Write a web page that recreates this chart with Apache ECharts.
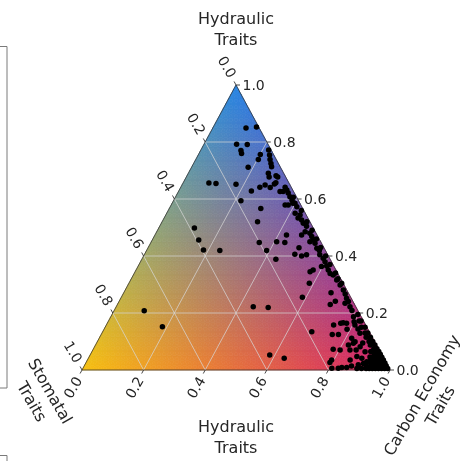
<!DOCTYPE html>
<html>
<head>
<meta charset="utf-8">
<script src="https://cdn.jsdelivr.net/npm/echarts@6/dist/echarts.min.js"></script>
<style>
  html, body { margin: 0; padding: 0; background: #ffffff; }
  #chart { width: 460px; height: 461px; }
</style>
</head>
<body>
<div id="chart"></div>
<script>
// Ternary composition of each species: hydraulic (top), stomatal (left), carbon economy (right)
const hydraulic = [
  0.849, 0.853, 0.792, 0.791, 0.770, 0.760, 0.756, 0.739, 0.711, 0.772,
  0.754, 0.739, 0.725, 0.713, 0.690, 0.682, 0.677, 0.677, 0.656, 0.654,
  0.652, 0.628, 0.641, 0.649, 0.640, 0.657, 0.653, 0.641, 0.632, 0.626,
  0.621, 0.608, 0.596, 0.606, 0.585, 0.579, 0.594, 0.567, 0.626, 0.579,
  0.585, 0.573, 0.550, 0.544, 0.533, 0.526, 0.515, 0.504, 0.485, 0.480,
  0.474, 0.468, 0.456, 0.450, 0.445, 0.427, 0.419, 0.404, 0.392, 0.380,
  0.363, 0.365, 0.351, 0.339, 0.333, 0.316, 0.298, 0.474, 0.447, 0.450,
  0.389, 0.406, 0.400, 0.404, 0.351, 0.345, 0.304, 0.255, 0.222, 0.219,
  0.134, 0.053, 0.041, 0.498, 0.456, 0.421, 0.419, 0.520, 0.447, 0.419,
  0.429, 0.208, 0.152, 0.271, 0.241, 0.230, 0.158, 0.125, 0.125, 0.073,
  0.026, 0.006, 0.006, 0.304, 0.281, 0.267, 0.252, 0.240, 0.222, 0.209,
  0.187, 0.166, 0.158, 0.144, 0.129, 0.111, 0.094, 0.070, 0.070, 0.082,
  0.095, 0.035,
  0.234, 0.164, 0.164, 0.143, 0.169, 0.070, 0.088, 0.099, 0.064, 0.047,
  0.041, 0.035, 0.009, 0.009, 0.014, 0.018, 0.023, 0.029, 0.046,
  0.005, 0.005, 0.005, 0.005, 0.005, 0.005, 0.005, 0.005, 0.005, 0.005,
  0.015, 0.015, 0.015, 0.015, 0.015, 0.015, 0.015,
  0.025, 0.025, 0.025, 0.025, 0.025, 0.025,
  0.035, 0.035, 0.035, 0.035, 0.035,
  0.045, 0.045, 0.045, 0.045,
  0.055, 0.055, 0.055, 0.065, 0.065, 0.065, 0.075, 0.075, 0.088, 0.088,
  0.100, 0.100, 0.115, 0.115, 0.130, 0.130, 0.150, 0.150, 0.172, 0.172, 0.195,
  0.560, 0.520, 0.490, 0.460, 0.430, 0.400, 0.370, 0.340, 0.320
];
const stomatal = [
  0.043, 0.007, 0.102, 0.068, 0.099, 0.102, 0.043, 0.058, 0.105, 0.008,
  0.014, 0.020, 0.024, 0.028, 0.050, 0.029, 0.054, 0.026, 0.260, 0.238,
  0.174, 0.136, 0.102, 0.081, 0.069, 0.042, 0.049, 0.020, 0.019, 0.034,
  0.020, 0.021, 0.020, 0.011, 0.016, 0.041, 0.187, 0.136, 0.044, 0.051,
  0.023, 0.016, 0.033, 0.020, 0.032, 0.024, 0.024, 0.019, 0.033, 0.020,
  0.050, 0.020, 0.021, 0.035, 0.021, 0.024, 0.020, 0.026, 0.021, 0.021,
  0.041, 0.023, 0.025, 0.025, 0.018, 0.015, 0.013, 0.099, 0.118, 0.143,
  0.176, 0.106, 0.087, 0.069, 0.074, 0.087, 0.110, 0.157, 0.333, 0.286,
  0.187, 0.364, 0.323, 0.386, 0.393, 0.395, 0.343, 0.170, 0.201, 0.191,
  0.081, 0.694, 0.663, 0.056, 0.057, 0.079, 0.104, 0.125, 0.105, 0.148,
  0.182, 0.186, 0.165, 0.005, 0.011, 0.012, 0.015, 0.015, 0.019, 0.019,
  0.025, 0.069, 0.035, 0.032, 0.033, 0.069, 0.072, 0.095, 0.075, 0.056,
  0.041, 0.172,
  0.029, 0.078, 0.059, 0.068, 0.032, 0.127, 0.091, 0.064, 0.049, 0.084,
  0.071, 0.112, 0.152, 0.136, 0.118, 0.094, 0.075, 0.061, 0.042,
  0.005, 0.015, 0.025, 0.035, 0.045, 0.055, 0.065, 0.075, 0.090, 0.105,
  0.005, 0.015, 0.025, 0.035, 0.045, 0.055, 0.070,
  0.004, 0.012, 0.020, 0.030, 0.040, 0.050,
  0.004, 0.012, 0.020, 0.030, 0.045,
  0.004, 0.012, 0.022, 0.032,
  0.004, 0.013, 0.024, 0.004, 0.014, 0.030, 0.005, 0.015, 0.005, 0.020,
  0.006, 0.018, 0.006, 0.020, 0.007, 0.016, 0.006, 0.018, 0.008, 0.014, 0.007,
  0.008, 0.010, 0.008, 0.009, 0.010, 0.009, 0.010, 0.007, 0.009
];
const carbon = [
  0.108, 0.140, 0.106, 0.141, 0.131, 0.138, 0.201, 0.203, 0.184, 0.220,
  0.232, 0.241, 0.251, 0.259, 0.260, 0.289, 0.269, 0.297, 0.084, 0.108,
  0.174, 0.236, 0.257, 0.270, 0.291, 0.301, 0.298, 0.339, 0.349, 0.340,
  0.359, 0.371, 0.384, 0.383, 0.399, 0.380, 0.219, 0.297, 0.330, 0.370,
  0.392, 0.411, 0.417, 0.436, 0.435, 0.450, 0.461, 0.477, 0.482, 0.500,
  0.476, 0.512, 0.523, 0.515, 0.534, 0.549, 0.561, 0.570, 0.587, 0.599,
  0.596, 0.612, 0.624, 0.636, 0.649, 0.669, 0.689, 0.427, 0.435, 0.407,
  0.435, 0.488, 0.513, 0.527, 0.575, 0.568, 0.586, 0.588, 0.445, 0.495,
  0.679, 0.583, 0.636, 0.116, 0.151, 0.184, 0.238, 0.310, 0.352, 0.390,
  0.490, 0.098, 0.185, 0.673, 0.702, 0.691, 0.738, 0.750, 0.770, 0.779,
  0.792, 0.808, 0.829, 0.691, 0.708, 0.721, 0.733, 0.745, 0.759, 0.772,
  0.788, 0.765, 0.807, 0.824, 0.838, 0.820, 0.834, 0.835, 0.855, 0.862,
  0.864, 0.793,
  0.737, 0.758, 0.777, 0.789, 0.799, 0.803, 0.821, 0.837, 0.887, 0.869,
  0.888, 0.853, 0.839, 0.855, 0.868, 0.888, 0.902, 0.910, 0.912,
  0.990, 0.980, 0.970, 0.960, 0.950, 0.940, 0.930, 0.920, 0.905, 0.890,
  0.980, 0.970, 0.960, 0.950, 0.940, 0.930, 0.915,
  0.971, 0.963, 0.955, 0.945, 0.935, 0.925,
  0.961, 0.953, 0.945, 0.935, 0.920,
  0.951, 0.943, 0.933, 0.923,
  0.941, 0.932, 0.921, 0.931, 0.921, 0.905, 0.920, 0.910, 0.907, 0.892,
  0.894, 0.882, 0.879, 0.865, 0.863, 0.854, 0.844, 0.832, 0.820, 0.814, 0.798,
  0.432, 0.470, 0.502, 0.531, 0.560, 0.591, 0.620, 0.653, 0.671
];

// Axis ticks shared by all three sides
const tickValues = [0, 0.2, 0.4, 0.6, 0.8, 1.0];
const tickLabels = ['0.0', '0.2', '0.4', '0.6', '0.8', '1.0'];
const gridValues = [0.2, 0.4, 0.6, 0.8];

// Corner colours of the background blend
const colorHydraulic = [38, 132, 228];
const colorStomatal = [248, 192, 14];
const colorCarbon = [216, 30, 104];

// Ternary (hydraulic, carbon) -> planar (x, y) in unit coordinates
function toPlane(t, r) { return [r + t / 2, t]; }

const points = hydraulic.map((t, i) => toPlane(t, carbon[i]));

// Triangular mesh for the colour blend
const MESH = 60;
const meshCells = [];
for (let i = 0; i < MESH; i++) {
  for (let j = 0; j < MESH - i; j++) {
    meshCells.push([i, j, 0]);
    if (j < MESH - i - 1) meshCells.push([i, j, 1]);
  }
}

function blend(t, l, r) {
  const c = [0, 1, 2].map(k => Math.round(
    t * colorHydraulic[k] + l * colorStomatal[k] + r * colorCarbon[k]));
  return 'rgb(' + c.join(',') + ')';
}

const FONT = '"DejaVu Sans", sans-serif';
const LABEL_COLOR = '#262626';

const chart = echarts.init(document.getElementById('chart'), null, { renderer: 'canvas' });

chart.setOption({
  animation: false,
  backgroundColor: '#ffffff',
  grid: { left: 82, top: 85, width: 308, height: 285 },
  xAxis: { type: 'value', min: 0, max: 1, show: false },
  yAxis: { type: 'value', min: 0, max: 1, show: false },
  graphic: [
    { type: 'rect', shape: { x: -6, y: 46.5, width: 13, height: 341.5 },
      style: { fill: 'none', stroke: '#7a7a7a', lineWidth: 1 } },
    { type: 'rect', shape: { x: -6, y: 455.5, width: 13, height: 30 },
      style: { fill: 'none', stroke: '#7a7a7a', lineWidth: 1 } },
    { type: 'text', x: 236, y: 30, style: { text: 'Hydraulic\nTraits', font: '16px ' + FONT,
      fill: LABEL_COLOR, align: 'center', verticalAlign: 'middle', lineHeight: 21 } },
    { type: 'text', x: 236, y: 438, style: { text: 'Hydraulic\nTraits', font: '16px ' + FONT,
      fill: LABEL_COLOR, align: 'center', verticalAlign: 'middle', lineHeight: 21 } },
    { type: 'text', x: 40, y: 397, rotation: -Math.PI / 3, style: { text: 'Stomatal\nTraits',
      font: '16px ' + FONT, fill: LABEL_COLOR, align: 'center', verticalAlign: 'middle', lineHeight: 21 } },
    { type: 'text', x: 432, y: 401, rotation: Math.PI / 3, style: { text: 'Carbon Economy\nTraits',
      font: '16px ' + FONT, fill: LABEL_COLOR, align: 'center', verticalAlign: 'middle', lineHeight: 21 } }
  ],
  series: [
    {
      // colour blend across the simplex
      type: 'custom',
      coordinateSystem: 'cartesian2d',
      silent: true,
      progressive: 0,
      data: meshCells,
      encode: { x: 0, y: 1 },
      renderItem: function (params, api) {
        const i = api.value(0), j = api.value(1), k = api.value(2);
        const verts = k === 0
          ? [[i, j], [i, j + 1], [i + 1, j]]
          : [[i, j + 1], [i + 1, j + 1], [i + 1, j]];
        const pts = verts.map(v => api.coord(toPlane(v[0] / MESH, v[1] / MESH)));
        const tc = (verts[0][0] + verts[1][0] + verts[2][0]) / (3 * MESH);
        const rc = (verts[0][1] + verts[1][1] + verts[2][1]) / (3 * MESH);
        const c = blend(tc, 1 - tc - rc, rc);
        return { type: 'polygon', shape: { points: pts },
          style: { fill: c, stroke: c, lineWidth: 0.7 } };
      },
      z: 1
    },
    {
      // grid, frame, ticks and tick labels
      type: 'custom',
      coordinateSystem: 'cartesian2d',
      silent: true,
      data: [[0, 0]],
      renderItem: function (params, api) {
        const children = [];
        const gridStyle = { stroke: 'rgba(215,215,215,0.72)', lineWidth: 1, fill: null };
        gridValues.forEach(v => {
          const segs = [
            [toPlane(v, 0), toPlane(v, 1 - v)],
            [toPlane(0, v), toPlane(1 - v, v)],
            [toPlane(0, 1 - v), toPlane(1 - v, 0)]
          ];
          segs.forEach(s => {
            const a = api.coord(s[0]), b = api.coord(s[1]);
            children.push({ type: 'line', shape: { x1: a[0], y1: a[1], x2: b[0], y2: b[1] }, style: gridStyle });
          });
        });
        const frame = [toPlane(1, 0), toPlane(0, 0), toPlane(0, 1)].map(p => api.coord(p));
        children.push({ type: 'polygon', shape: { points: frame },
          style: { fill: null, stroke: 'rgba(50,50,50,0.85)', lineWidth: 0.9 } });

        const tickStyle = { stroke: '#333', lineWidth: 0.9 };
        const textStyle = (txt, align) => ({ text: txt, font: '14px ' + FONT, fill: LABEL_COLOR,
          align: align, verticalAlign: 'middle' });
        const dirUp = [-0.475, -0.88];
        const dirDown = [-0.475, 0.88];
        tickValues.forEach((v, n) => {
          // hydraulic along the right edge
          const pr = api.coord(toPlane(v, 1 - v));
          children.push({ type: 'line', shape: { x1: pr[0], y1: pr[1], x2: pr[0] + 4, y2: pr[1] }, style: tickStyle });
          children.push({ type: 'text', x: pr[0] + 6.5, y: pr[1] + 1, style: textStyle(tickLabels[n], 'left') });
          // stomatal along the left edge
          const pl = api.coord(toPlane(1 - v, 0));
          children.push({ type: 'line', shape: { x1: pl[0], y1: pl[1], x2: pl[0] + 4 * dirUp[0], y2: pl[1] + 4 * dirUp[1] }, style: tickStyle });
          children.push({ type: 'text', x: pl[0] - 10, y: pl[1] - 17.5, rotation: -Math.PI / 3,
            style: textStyle(tickLabels[n], 'center') });
          // carbon economy along the bottom edge
          const pb = api.coord(toPlane(0, v));
          children.push({ type: 'line', shape: { x1: pb[0], y1: pb[1], x2: pb[0] + 4 * dirDown[0], y2: pb[1] + 4 * dirDown[1] }, style: tickStyle });
          children.push({ type: 'text', x: pb[0] - 8, y: pb[1] + 18, rotation: Math.PI / 3,
            style: textStyle(tickLabels[n], 'center') });
        });
        return { type: 'group', children: children };
      },
      z: 2
    },
    {
      type: 'scatter',
      data: points,
      symbol: 'circle',
      symbolSize: 5.5,
      itemStyle: { color: '#000000', opacity: 1 },
      silent: true,
      z: 3
    }
  ]
});
</script>
</body>
</html>
